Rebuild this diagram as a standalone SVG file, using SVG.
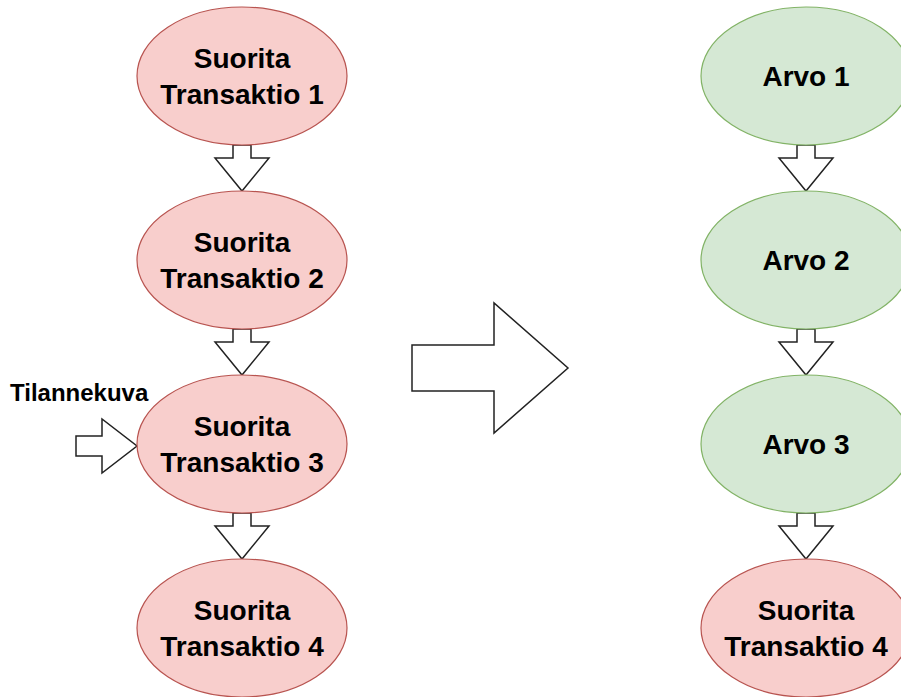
<svg xmlns="http://www.w3.org/2000/svg" width="901" height="697" viewBox="0 0 901 697">
<style>
.red{fill:#f8cecc;stroke:#b85450;stroke-width:1.2}
.green{fill:#d5e8d4;stroke:#82b366;stroke-width:1.2}
.arr{fill:#ffffff;stroke:#222222;stroke-width:1.5;stroke-linejoin:miter}
text{font-family:"Liberation Sans",Arial,sans-serif;font-weight:bold;fill:#000000}
.lbl{font-size:28px;text-anchor:middle}
.note{font-size:24px}
</style>
<rect width="901" height="697" fill="#ffffff"/>
<g id="connectors">
<polygon class="arr" points="233,145 251,145 251,158 269,158 242,191 215,158 233,158"/>
<polygon class="arr" points="233,329 251,329 251,342 269,342 242,375 215,342 233,342"/>
<polygon class="arr" points="233,513 251,513 251,526 269,526 242,559 215,526 233,526"/>
<polygon class="arr" points="797,145 815,145 815,158 833,158 806,191 779,158 797,158"/>
<polygon class="arr" points="797,329 815,329 815,342 833,342 806,375 779,342 797,342"/>
<polygon class="arr" points="797,513 815,513 815,526 833,526 806,559 779,526 797,526"/>
<polygon class="arr" points="76,436 102,436 102,419 137,446 102,473 102,456 76,456"/>
<polygon class="arr" points="412,345 494,345 494,303 568,368 494,433 494,391 412,391"/>
</g>
<g id="left1"><ellipse class="red" cx="242" cy="76" rx="105" ry="69"/><text class="lbl" x="242" y="68">Suorita</text><text class="lbl" x="242" y="104">Transaktio 1</text></g>
<g id="left2"><ellipse class="red" cx="242" cy="260" rx="105" ry="69"/><text class="lbl" x="242" y="252">Suorita</text><text class="lbl" x="242" y="288">Transaktio 2</text></g>
<g id="left3"><ellipse class="red" cx="242" cy="444" rx="105" ry="69"/><text class="lbl" x="242" y="436">Suorita</text><text class="lbl" x="242" y="472">Transaktio 3</text></g>
<g id="left4"><ellipse class="red" cx="242" cy="628" rx="105" ry="69"/><text class="lbl" x="242" y="620">Suorita</text><text class="lbl" x="242" y="656">Transaktio 4</text></g>
<g id="right1"><ellipse class="green" cx="806" cy="76" rx="105" ry="69"/><text class="lbl" x="806" y="86">Arvo 1</text></g>
<g id="right2"><ellipse class="green" cx="806" cy="260" rx="105" ry="69"/><text class="lbl" x="806" y="270">Arvo 2</text></g>
<g id="right3"><ellipse class="green" cx="806" cy="444" rx="105" ry="69"/><text class="lbl" x="806" y="454">Arvo 3</text></g>
<g id="right4"><ellipse class="red" cx="806" cy="628" rx="105" ry="69"/><text class="lbl" x="806" y="620">Suorita</text><text class="lbl" x="806" y="656">Transaktio 4</text></g>
<g id="tilannekuva"><text class="note" x="10" y="401">Tilannekuva</text></g>
</svg>
